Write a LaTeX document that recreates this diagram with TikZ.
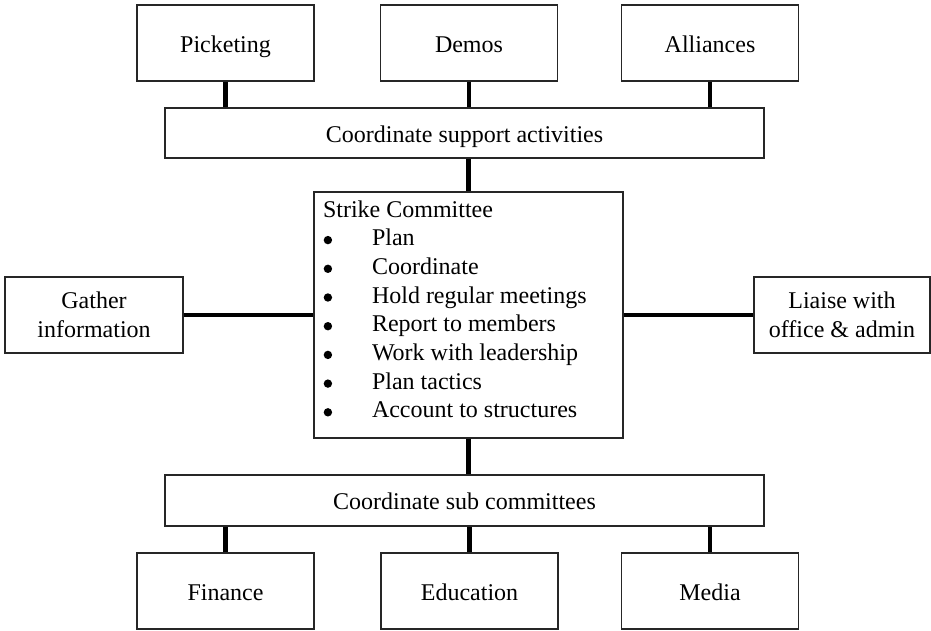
\documentclass[tikz,border=0pt]{standalone}
\usepackage{fontspec}
\setmainfont{Liberation Serif}
\newcommand{\itemgap}{\hspace*{49pt}}
\begin{document}
\begin{tikzpicture}[x=1pt,y=1pt,
  box/.style={draw=black!85,line width=1.2pt,fill=white,inner sep=0pt,align=center,
    font=\fontsize{24}{28.8}\selectfont},
  oneline/.style={box,text height=18.5pt,text depth=0pt},
  smallbox/.style={oneline,minimum width=177pt,minimum height=76pt},
  widebox/.style={oneline,minimum width=599pt,minimum height=50pt},
  link/.style={line width=4.5pt,black},
  dot/.style={fill=black}]
\useasboundingbox (0,0) rectangle (931,630);
% top row
\node[smallbox] (pick) at (225.5,587) {Picketing};
\node[smallbox] (demo) at (469,587) {Demos};
\node[smallbox] (alli) at (710,587) {Alliances};
\node[widebox] (sup) at (464.5,497) {Coordinate support activities};
% middle
\node[box,minimum width=309pt,minimum height=246pt] (strike) at (468.5,315) {%
  \begin{minipage}[c][246pt][t]{309pt}\raggedright
  \fontsize{24}{28.7}\selectfont
  \leftskip=9pt
  \rule{0pt}{25pt}Strike Committee\\
  \itemgap Plan\\
  \itemgap Coordinate\\
  \itemgap Hold regular meetings\\
  \itemgap Report to members\\
  \itemgap Work with leadership\\
  \itemgap Plan tactics\\
  \itemgap Account to structures
  \end{minipage}};
\foreach \i in {1,...,7}
  \fill[dot] ([xshift=14.5pt,yshift=-20pt-28.7pt*\i]strike.north west) circle (4.2pt);
\node[box,minimum width=178pt,minimum height=76pt] (gath) at (94,315) {Gather\\information};
\node[box,minimum width=176pt,minimum height=76pt] (liai) at (842,315) {Liaise with\\office \& admin};
% bottom
\node[widebox,minimum height=51pt] (sub) at (464.5,129.5) {Coordinate sub committees};
\node[smallbox] (fin) at (225.5,39) {Finance};
\node[smallbox] (edu) at (469.5,39) {Education};
\node[smallbox] (med) at (710,39) {Media};
% connectors
\draw[link] (pick.south) -- (pick.south |- sup.north);
\draw[link] (demo.south) -- (demo.south |- sup.north);
\draw[link] (alli.south) -- (alli.south |- sup.north);
\draw[link] (strike.north) -- (strike.north |- sup.south);
\draw[link] (gath.east) -- (gath.east -| strike.west);
\draw[link] (liai.west) -- (liai.west -| strike.east);
\draw[link] (strike.south) -- (strike.south |- sub.north);
\draw[link] (fin.north) -- (fin.north |- sub.south);
\draw[link] (edu.north) -- (edu.north |- sub.south);
\draw[link] (med.north) -- (med.north |- sub.south);
\end{tikzpicture}
\end{document}
